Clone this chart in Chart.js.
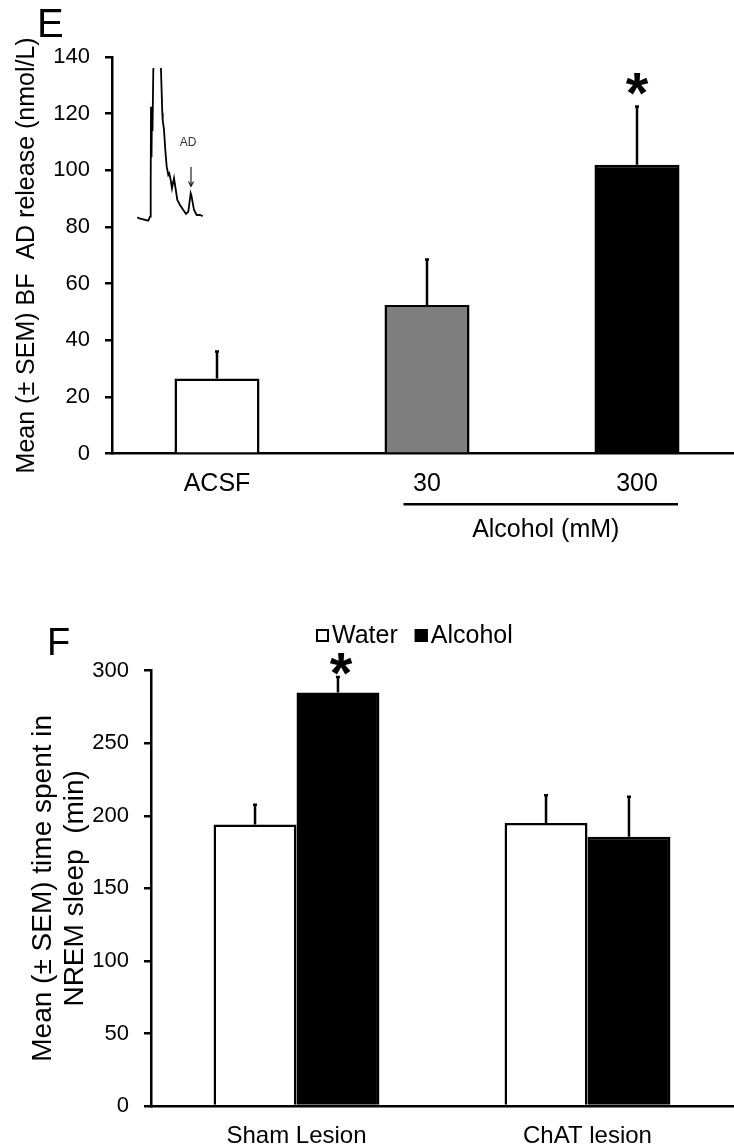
<!DOCTYPE html>
<html>
<head>
<meta charset="utf-8">
<script src="https://cdn.jsdelivr.net/npm/chart.js@4/dist/chart.umd.min.js"></script>
<style>
  html, body { margin: 0; padding: 0; background: #fff; overflow: hidden; }
  #page { position: relative; width: 734px; height: 1148px; overflow: hidden; background: #fff; }
  .holder { position: absolute; }
  canvas { display: block; }
</style>
</head>
<body>
<div id="page">
  <div class="holder" style="left:0;top:0;"><canvas id="chartE" width="742" height="560"></canvas></div>
  <div class="holder" style="left:132px;top:68px;"><canvas id="inset" width="76" height="156"></canvas></div>
  <div class="holder" style="left:0;top:600px;"><canvas id="chartF" width="734" height="548"></canvas></div>
</div>
<script>
const FONT = "'Liberation Sans', Arial, Helvetica, sans-serif";

// Panel E: basal forebrain adenosine release (nmol/L)
const releaseGroups = ['ACSF', '30', '300'];
const releaseMean = [26.5, 52.5, 102];
const releaseSem = [10, 16.5, 21];
const releaseFill = ['#ffffff', '#7f7f7f', '#000000'];
const releaseTicks = [0, 20, 40, 60, 80, 100, 120, 140];

// Inset: example chromatogram (time in min, detector signal in arbitrary units)
const traceTime = [0.06, 0.46, 1.26, 2.26, 2.6, 2.74, 2.8, 2.9, 3.0, 3.1, 3.26, 4.0, 4.8, 5.06, 5.14, 5.4, 5.66, 5.94, 6.26, 6.46, 6.74, 7.0, 7.4, 7.66, 8.06, 8.6, 9.26, 9.8, 10.26, 10.74, 10.9, 11.4, 11.94, 12.6, 13.14];
const traceSignal = [2.5, 1.8, 1.1, 0.2, 2.9, 22.9, 76.2, 42.7, 75.3, 60, 100.7, 134, 100.7, 72, 67.3, 60.7, 47.3, 36.2, 30.7, 31.8, 27.3, 21.8, 28.5, 22.9, 14, 10.7, 7.3, 4.7, 6.2, 18.5, 16.7, 7.3, 4, 4, 3.3];

// Panel F: NREM sleep after water or alcohol
const lesionGroups = ['Sham Lesion', 'ChAT lesion'];
const waterMean = [194, 195];
const waterSem = [14.5, 20];
const alcoholMean = [285, 185.5];
const alcoholSem = [11.5, 28.5];
const sleepTicks = [0, 50, 100, 150, 200, 250, 300];

// Vertical SEM bars and significance asterisks on top of the bars
const errorBars = {
  id: 'errorBars',
  afterDatasetsDraw(chart, args, opts) {
    const ctx = chart.ctx;
    const yScale = chart.scales.y;
    const tops = {};
    ctx.save();
    ctx.strokeStyle = '#000';
    ctx.lineWidth = opts.width;
    chart.data.datasets.forEach((ds, di) => {
      if (!ds.sem) return;
      const meta = chart.getDatasetMeta(di);
      meta.data.forEach((bar, i) => {
        const top = yScale.getPixelForValue(ds.data[i] + ds.sem[i]);
        tops[di + ':' + i] = { x: bar.x, y: top };
        ctx.beginPath();
        ctx.moveTo(bar.x, bar.y);
        ctx.lineTo(bar.x, top);
        ctx.moveTo(bar.x - opts.cap / 2, top + opts.width / 2);
        ctx.lineTo(bar.x + opts.cap / 2, top + opts.width / 2);
        ctx.stroke();
      });
    });
    (opts.marks || []).forEach(m => {
      const t = tops[m.dataset + ':' + m.index];
      if (!t) return;
      const size = opts.starSize;
      ctx.font = 'bold ' + size + 'px ' + FONT;
      ctx.fillStyle = '#000';
      ctx.textAlign = 'center';
      ctx.textBaseline = 'alphabetic';
      const cy = t.y - m.offset;
      ctx.fillText('*', t.x + (m.dx || 0), cy + 0.56 * size);
    });
    ctx.restore();
  }
};

// Panel letter in the upper left corner
const panelLetter = {
  id: 'panelLetter',
  afterDraw(chart, args, o) {
    if (!o.text) return;
    const ctx = chart.ctx;
    ctx.save();
    ctx.font = o.size + 'px ' + FONT;
    ctx.fillStyle = '#000';
    ctx.textAlign = 'left';
    ctx.textBaseline = 'alphabetic';
    ctx.fillText(o.text, o.x, o.y);
    ctx.restore();
  }
};

// Bracket line under the alcohol doses with its caption
const doseBracket = {
  id: 'doseBracket',
  afterDraw(chart, args, o) {
    if (!o.text) return;
    const ctx = chart.ctx;
    const xs = chart.scales.x;
    const x0 = xs.getPixelForValue(o.from) - o.padLeft;
    const x1 = xs.getPixelForValue(o.to) + o.padRight;
    const yLine = chart.chartArea.bottom + o.lineOffset;
    ctx.save();
    ctx.strokeStyle = '#000';
    ctx.lineWidth = 2.5;
    ctx.beginPath();
    ctx.moveTo(x0, yLine);
    ctx.lineTo(x1, yLine);
    ctx.stroke();
    ctx.font = o.size + 'px ' + FONT;
    ctx.fillStyle = '#000';
    ctx.textAlign = 'center';
    ctx.textBaseline = 'middle';
    ctx.fillText(o.text, (x0 + x1) / 2 + o.textDx, yLine + o.textOffset);
    ctx.restore();
  }
};

// Compact legend: square swatch followed by the series name
const boxLegend = {
  id: 'boxLegend',
  afterDraw(chart, args, o) {
    if (!o.show) return;
    const ctx = chart.ctx;
    ctx.save();
    ctx.font = o.size + 'px ' + FONT;
    ctx.textAlign = 'left';
    ctx.textBaseline = 'middle';
    let x = o.x;
    chart.data.datasets.forEach(ds => {
      const top = o.y - o.box / 2;
      ctx.fillStyle = ds.backgroundColor;
      ctx.fillRect(x, top, o.box, o.box);
      ctx.strokeStyle = '#000';
      ctx.lineWidth = 2;
      ctx.strokeRect(x + 1, top + 1, o.box - 2, o.box - 2);
      x += o.box + o.gap;
      ctx.fillStyle = '#000';
      ctx.fillText(ds.label, x, o.y + 1);
      x += ctx.measureText(ds.label).width + o.itemGap;
    });
    ctx.restore();
  }
};

// Label and arrow marking the adenosine peak in the chromatogram
const peakNote = {
  id: 'peakNote',
  afterDraw(chart, args, o) {
    if (!o.text) return;
    const ctx = chart.ctx;
    const xs = chart.scales.x, ys = chart.scales.y;
    ctx.save();
    ctx.font = o.size + 'px ' + FONT;
    ctx.fillStyle = '#333';
    ctx.textAlign = 'center';
    ctx.textBaseline = 'middle';
    ctx.fillText(o.text, xs.getPixelForValue(o.textAt[0]), ys.getPixelForValue(o.textAt[1]));
    const ax = xs.getPixelForValue(o.arrowX);
    const ay0 = ys.getPixelForValue(o.arrowFrom);
    const ay1 = ys.getPixelForValue(o.arrowTo);
    ctx.strokeStyle = '#222';
    ctx.lineWidth = 1.2;
    ctx.beginPath();
    ctx.moveTo(ax, ay0);
    ctx.lineTo(ax, ay1);
    ctx.moveTo(ax - 2.5, ay1 - 5);
    ctx.lineTo(ax, ay1);
    ctx.lineTo(ax + 2.5, ay1 - 5);
    ctx.stroke();
    ctx.restore();
  }
};

Chart.register(errorBars, panelLetter, doseBracket, boxLegend, peakNote);
Chart.defaults.font.family = FONT;
Chart.defaults.color = '#000';
Chart.defaults.animation = false;

function valueAxis(ticks, min, max, width, title) {
  return {
    min: min, max: max,
    afterBuildTicks: s => { s.ticks = ticks.map(v => ({ value: v })); },
    afterFit: s => { s.width = width; },
    grid: { display: true, drawOnChartArea: false, drawTicks: true, tickLength: 7, color: '#000', lineWidth: 2.5 },
    border: { display: true, color: '#000', width: 2.5 },
    ticks: { font: { size: 22 }, color: '#000', padding: 15 },
    title: title
  };
}

function categoryAxis(height, fontSize, padding) {
  return {
    afterFit: s => { s.height = height; },
    grid: { display: false, drawTicks: false },
    border: { display: true, color: '#000', width: 2.5 },
    ticks: { font: { size: fontSize }, color: '#000', padding: padding, maxRotation: 0, autoSkip: false }
  };
}

new Chart(document.getElementById('chartE'), {
  type: 'bar',
  data: {
    labels: releaseGroups,
    datasets: [{
      label: 'AD release',
      data: releaseMean,
      sem: releaseSem,
      backgroundColor: releaseFill,
      borderColor: '#000',
      borderWidth: 2.5,
      categoryPercentage: 0.405,
      barPercentage: 1.0
    }]
  },
  options: {
    responsive: false,
    layout: { padding: { top: 57, left: 0, right: 0, bottom: 0 } },
    scales: {
      x: categoryAxis(106.3, 25, 15),
      y: valueAxis(releaseTicks, 0, 140, 112, {
        display: true,
        text: 'Mean (\u00b1 SEM) BF  AD release (nmol/L)',
        font: { size: 25 },
        color: '#000',
        padding: { top: 12, bottom: 0 }
      })
    },
    plugins: {
      legend: { display: false },
      tooltip: { enabled: false },
      errorBars: { width: 2.5, cap: 4, starSize: 58, marks: [{ dataset: 0, index: 2, offset: 25 }] },
      panelLetter: { text: 'E', x: 37, y: 37, size: 40 },
      doseBracket: { text: 'Alcohol (mM)', from: 1, to: 2, padLeft: 23.5, padRight: 41, lineOffset: 50.5, size: 25, textOffset: 26, textDx: 5 },
      boxLegend: { show: false }
    }
  }
});

new Chart(document.getElementById('inset'), {
  type: 'line',
  data: {
    datasets: [{
      label: 'chromatogram',
      data: traceTime.map((t, i) => ({ x: t, y: traceSignal[i] })),
      borderColor: '#000',
      borderWidth: 1.8,
      pointRadius: 0,
      tension: 0,
      fill: false,
      clip: 0
    }]
  },
  options: {
    responsive: false,
    layout: { padding: 0 },
    scales: {
      x: { type: 'linear', min: -1, max: 14.2, display: false },
      y: { type: 'linear', min: -2, max: 102, display: false }
    },
    plugins: {
      legend: { display: false },
      tooltip: { enabled: false },
      peakNote: { text: 'AD', size: 12, textAt: [10.2, 52], arrowX: 10.8, arrowFrom: 36, arrowTo: 23 },
      boxLegend: { show: false }
    }
  }
});

new Chart(document.getElementById('chartF'), {
  type: 'bar',
  data: {
    labels: lesionGroups,
    datasets: [
      {
        label: 'Water',
        data: waterMean,
        sem: waterSem,
        backgroundColor: '#ffffff',
        borderColor: '#000',
        borderWidth: 2.5,
        categoryPercentage: 0.57,
        barPercentage: 1.0
      },
      {
        label: 'Alcohol',
        data: alcoholMean,
        sem: alcoholSem,
        backgroundColor: '#000000',
        borderColor: '#000',
        borderWidth: 2.5,
        categoryPercentage: 0.57,
        barPercentage: 1.0
      }
    ]
  },
  options: {
    responsive: false,
    layout: { padding: { top: 70.7, left: 0, right: 1, bottom: 0 } },
    scales: {
      x: categoryAxis(42, 24, 16),
      y: valueAxis(sleepTicks, 0, 300, 151, {
        display: true,
        text: ['Mean (\u00b1 SEM) time spent in', 'NREM sleep  (min)'],
        font: { size: 28, lineHeight: 1.14 },
        color: '#000',
        padding: { top: 27, bottom: 0 }
      })
    },
    plugins: {
      legend: { display: false },
      tooltip: { enabled: false },
      errorBars: { width: 2.5, cap: 4, starSize: 58, marks: [{ dataset: 1, index: 0, offset: 15, dx: 3 }] },
      panelLetter: { text: 'F', x: 47, y: 55, size: 38 },
      boxLegend: { show: true, x: 316, y: 35.5, box: 13, gap: 3, itemGap: 17, size: 25 }
    }
  }
});
</script>
</body>
</html>
